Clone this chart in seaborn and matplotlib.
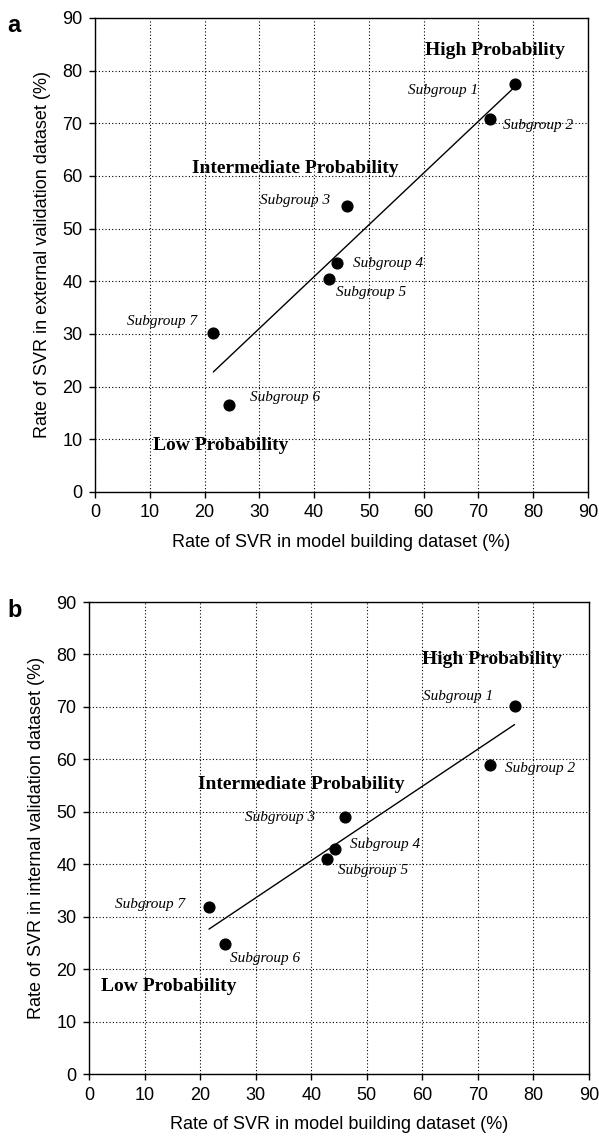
import numpy as np
import pandas as pd
import matplotlib
matplotlib.use("Agg")
import matplotlib.pyplot as plt
import seaborn as sns

# Data
subgroups = ["Subgroup 1", "Subgroup 2", "Subgroup 3", "Subgroup 4",
             "Subgroup 5", "Subgroup 6", "Subgroup 7"]
model_rate = [76.6, 72.1, 46.0, 44.2, 42.8, 24.4, 21.6]
external_rate = [77.4, 70.8, 54.3, 43.5, 40.4, 16.5, 30.2]
internal_rate = [70.2, 58.9, 49.0, 42.9, 41.0, 24.8, 31.8]

ticks = [0, 10, 20, 30, 40, 50, 60, 70, 80, 90]

# label positions (x, y, ha) for each panel
sub_pos_a = [(69.9, 76.3, "right"), (74.5, 69.5, "left"), (42.9, 55.4, "right"),
             (47.1, 43.3, "left"), (44.0, 37.8, "left"), (28.3, 18.0, "left"),
             (18.6, 32.3, "right")]
sub_pos_b = [(72.7, 71.9, "right"), (74.9, 58.2, "left"), (40.7, 49.0, "right"),
             (47.0, 43.7, "left"), (44.8, 38.9, "left"), (25.4, 22.1, "left"),
             (17.3, 32.4, "right")]
prob_a = [("High Probability", 73.0, 83.9), ("Intermediate Probability", 36.5, 61.5),
          ("Low Probability", 23.0, 8.9)]
prob_b = [("High Probability", 72.5, 79.1), ("Intermediate Probability", 38.2, 55.3),
          ("Low Probability", 14.3, 16.6)]

sns.set_theme(style="ticks")
plt.rcParams['font.family'] = ['Liberation Sans', 'DejaVu Sans']
plt.rcParams['text.color'] = 'black'
plt.rcParams['axes.labelcolor'] = 'black'
plt.rcParams['xtick.color'] = 'black'
plt.rcParams['ytick.color'] = 'black'

df_a = pd.DataFrame({"model": model_rate, "val": external_rate, "sub": subgroups})
df_b = pd.DataFrame({"model": model_rate, "val": internal_rate, "sub": subgroups})

fig = plt.figure(figsize=(5.99, 11.38), dpi=100)
ax1 = fig.add_axes([0.1586, 0.5677, 0.823, 0.4165])
ax2 = fig.add_axes([0.1486, 0.0562, 0.8347, 0.4148])

panels = [
    (ax1, df_a, sub_pos_a, prob_a, "Rate of SVR in external validation dataset (%)", "a", 0.988),
    (ax2, df_b, sub_pos_b, prob_b, "Rate of SVR in internal validation dataset (%)", "b", 0.474),
]

for ax, df, sub_pos, prob, ylab, letter, ytop in panels:
    sns.regplot(data=df, x="model", y="val", ax=ax, ci=None, truncate=True,
                scatter_kws=dict(s=60, color="black", edgecolor="black", alpha=1, zorder=3),
                line_kws=dict(color="black", lw=1.0))
    ax.set_xlim(0, 90)
    ax.set_ylim(0, 90)
    ax.set_xticks(ticks)
    ax.set_yticks(ticks)
    ax.grid(True, color="black", linestyle=(0, (1, 2)), linewidth=0.8)
    ax.set_axisbelow(True)
    for s in ax.spines.values():
        s.set_color("black")
        s.set_linewidth(1.0)
    ax.tick_params(axis="both", labelsize=13, length=4, width=1, pad=5, colors="black")
    ax.set_xlabel("Rate of SVR in model building dataset (%)", fontsize=13, labelpad=9)
    ax.set_ylabel(ylab, fontsize=13, labelpad=8)

    for name, (tx, ty, ha) in zip(df["sub"], sub_pos):
        ax.text(tx, ty, name, ha=ha, va="center", fontsize=11, style="italic",
                family=["Liberation Serif", "DejaVu Serif"])
    for txt, tx, ty in prob:
        ax.text(tx, ty, txt, ha="center", va="center", fontsize=14, weight="bold",
                family=["Liberation Serif", "DejaVu Serif"])

    fig.text(0.012, ytop, letter, fontsize=17, weight="bold", va="top", ha="left")

fig.savefig("out.png", dpi=100)
